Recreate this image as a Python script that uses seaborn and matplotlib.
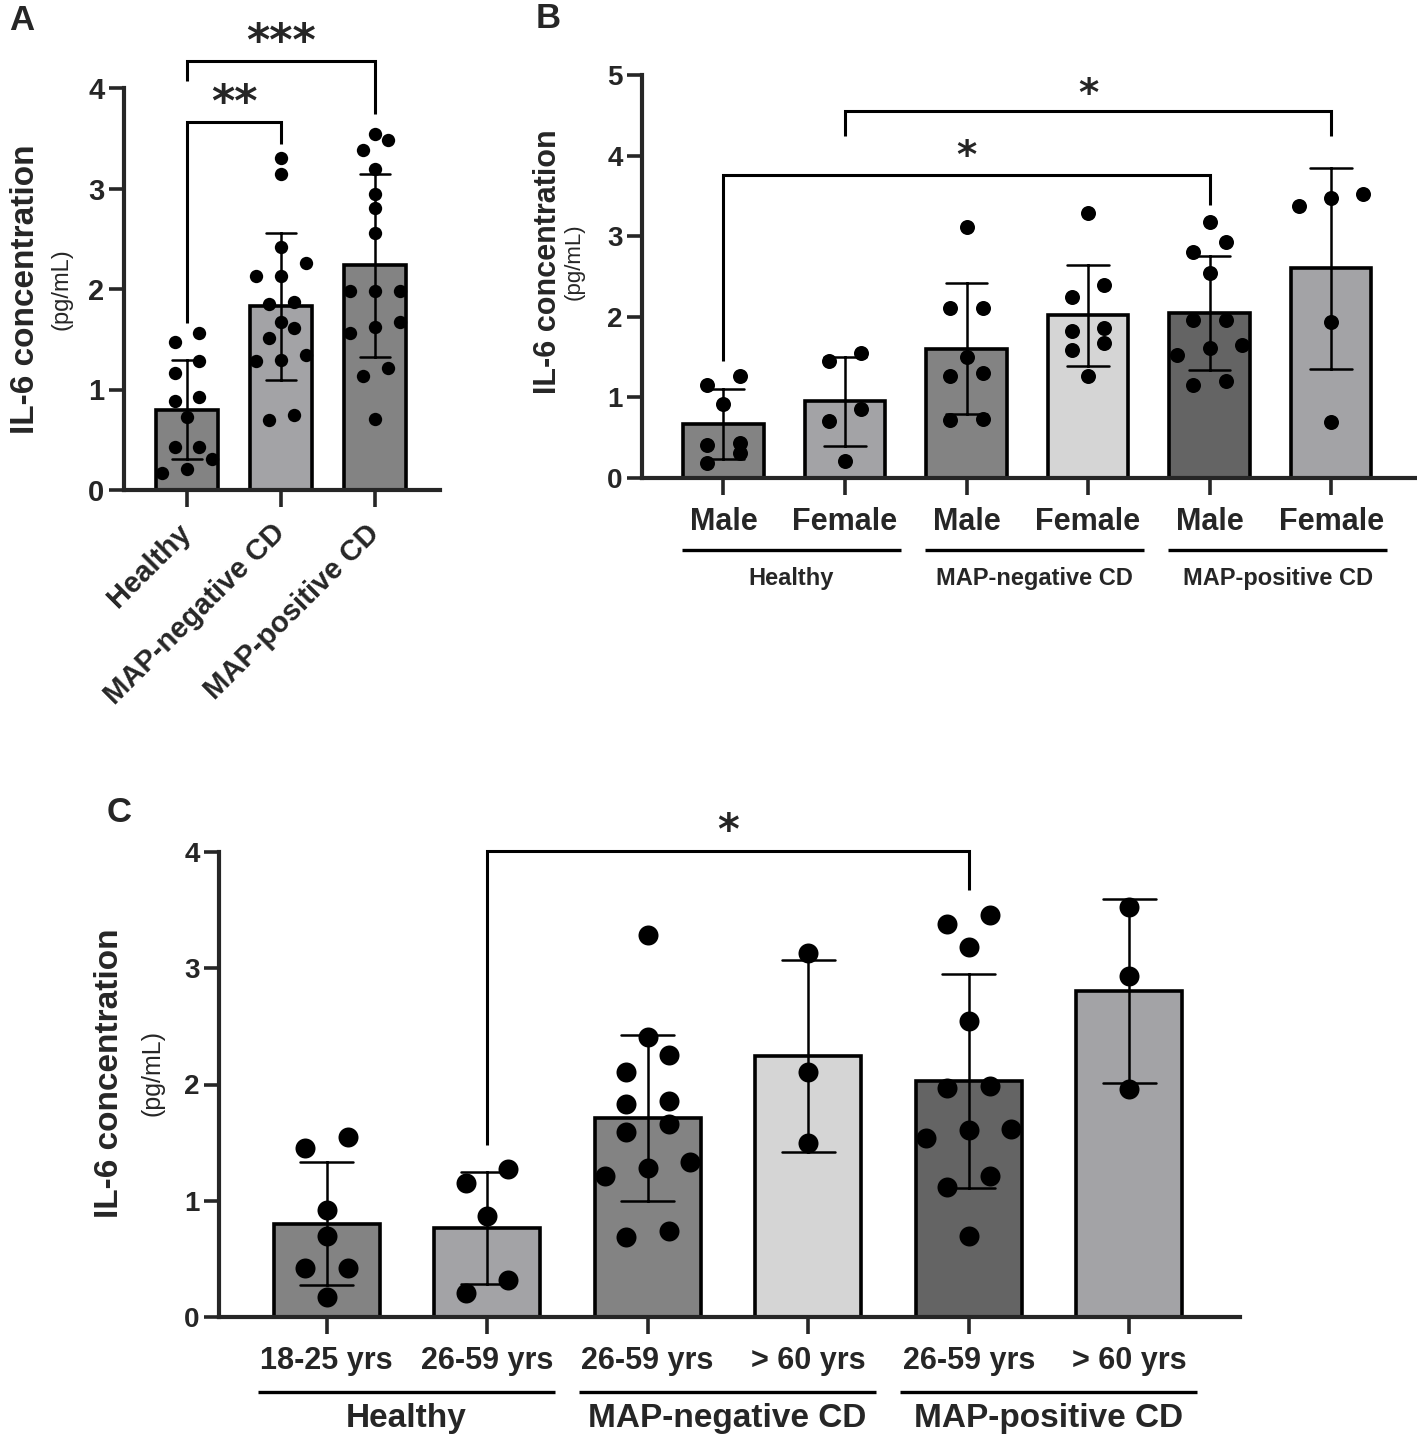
"""
IL-6 concentration per group (A), per sex (B) and per age class (C).
Bars = mean, error bars = SD, dots = individual samples.
"""
# %% IMPORT LIBRARIES
import matplotlib.pyplot as plt
import matplotlib.transforms as mtransforms
import numpy as np
import pandas as pd
import seaborn as sns

sns.set_style("ticks")
plt.rcParams['font.family'] = ['Liberation Sans', 'DejaVu Sans']
plt.rcParams['font.weight'] = 'bold'

# %% DATA
# Panel A: per diagnosis group
groups_a = ["Healthy", "MAP-negative CD", "MAP-positive CD"]
healthy_a = [0.93, 1.47, 1.56, 1.28, 1.16, 0.89, 0.73, 0.43, 0.43, 0.31, 0.17, 0.21]
map_neg_a = [3.30, 3.14, 2.42, 2.26, 2.13, 2.13, 1.87, 1.85, 1.67, 1.61, 1.51,
             1.29, 1.34, 1.28, 0.70, 0.75]
map_pos_a = [3.54, 3.48, 3.38, 3.19, 2.95, 2.81, 2.56, 1.98, 1.98, 1.98, 1.67,
             1.62, 1.56, 1.21, 1.13, 0.71]

# Panel B: per sex within group
groups_b = ["H-M", "H-F", "N-M", "N-F", "P-M", "P-F"]
ticks_b = ["Male", "Female", "Male", "Female", "Male", "Female"]
healthy_male = [1.27, 1.16, 0.92, 0.43, 0.41, 0.31, 0.19]
healthy_female = [1.55, 1.45, 0.85, 0.71, 0.21]
map_neg_male = [3.12, 2.11, 2.11, 1.50, 1.26, 1.30, 0.72, 0.73]
map_neg_female = [3.29, 2.40, 2.25, 1.82, 1.86, 1.67, 1.59, 1.26]
map_pos_male = [3.17, 2.93, 2.81, 2.54, 1.96, 1.96, 1.65, 1.61, 1.53, 1.16, 1.20]
map_pos_female = [3.47, 3.52, 3.37, 1.94, 0.70]

# Panel C: per age class within group
groups_c = ["H-18", "H-26", "N-26", "N-60", "P-26", "P-60"]
ticks_c = ["18-25 yrs", "26-59 yrs", "26-59 yrs", "> 60 yrs", "26-59 yrs", "> 60 yrs"]
healthy_18_25 = [1.55, 1.45, 0.92, 0.70, 0.42, 0.42, 0.17]
healthy_26_59 = [1.27, 1.15, 0.87, 0.32, 0.21]
map_neg_26_59 = [3.29, 2.41, 2.25, 2.11, 1.83, 1.86, 1.66, 1.59, 1.28, 1.33, 1.21, 0.69, 0.74]
map_neg_60 = [3.13, 2.11, 1.50]
map_pos_26_59 = [3.38, 3.46, 3.18, 2.55, 1.99, 1.97, 1.61, 1.62, 1.54, 1.21, 1.12, 0.70]
map_pos_60 = [3.53, 2.93, 1.96]

group_names = ["Healthy", "MAP-negative CD", "MAP-positive CD"]

# significance brackets: (x1, x2, bar height, left end, right end, label, label height)
brackets_a = [(0, 2, 4.27, 4.07, 3.74, "***", 4.54),
              (0, 1, 3.66, 1.66, 3.44, "**", 3.93)]
brackets_b = [(0, 4, 3.76, 1.45, 3.39, "*", 4.09),
              (1, 5, 4.55, 4.24, 4.24, "*", 4.85)]
brackets_c = [(1, 4, 4.01, 1.48, 3.67, "*", 4.24)]

MID, LIGHT, PALE, DARK = "#838383", "#a3a3a7", "#d5d5d5", "#646464"

# %% LAYOUT
W, H = 1417, 1447
fig = plt.figure(figsize=(W / 100, H / 100), dpi=100)


def rect(left, top, right, bottom):
    return [left / W, 1 - bottom / H, (right - left) / W, (bottom - top) / H]


def fy(y_px):
    return 1 - y_px / H


ax_a = fig.add_axes(rect(124, 88, 440, 490))
ax_b = fig.add_axes(rect(642, 75, 1415, 478))
ax_c = fig.add_axes(rect(219, 852, 1240, 1317))


def long_table(keys, values):
    return pd.DataFrame({
        "group": np.repeat(keys, [len(v) for v in values]),
        "il6": np.concatenate(values)
    })


def dot_offsets(values, row_height, step=0.265):
    # prism-like scatter: points of about the same value share a row,
    # each row is centred on the bar
    values = np.asarray(values, dtype=float)
    offsets = np.zeros(len(values))
    row = []

    def flush(row):
        for k, idx in enumerate(row):
            offsets[idx] = (k - (len(row) - 1) / 2) * step

    for idx in np.argsort(values, kind="stable"):
        if row and values[idx] - values[row[0]] >= row_height:
            flush(row)
            row = []
        row.append(idx)
    flush(row)
    return offsets


def draw_panel(ax, keys, values, colors, dot_size, row_height, cap_w, ymax, ytick_size):
    df = long_table(keys, values)
    sns.barplot(data=df, x="group", y="il6", order=keys, hue="group",
                hue_order=keys, palette=dict(zip(keys, colors)), legend=False,
                errorbar="sd", capsize=cap_w, width=0.66,
                edgecolor="black", linewidth=2.6,
                err_kws={"color": "black", "linewidth": 1.8}, ax=ax)
    df["pos"] = np.concatenate([i + dot_offsets(v, row_height) for i, v in enumerate(values)])
    sns.scatterplot(data=df, x="pos", y="il6", color="black", s=dot_size ** 2,
                    linewidth=0, zorder=3, legend=False, ax=ax)
    ax.set_xlim(-0.67, len(keys) - 0.31)
    ax.set_ylim(0, ymax)
    ax.set_yticks(range(ymax + 1))
    ax.set_xlabel("")
    ax.set_ylabel("")
    sns.despine(ax=ax)
    for side in ["left", "bottom"]:
        ax.spines[side].set_linewidth(3)
    ax.tick_params(axis="y", length=11, width=2.6, labelsize=ytick_size, pad=3)
    ax.tick_params(axis="x", length=12, width=2.6)


def draw_brackets(ax, brackets, star_size):
    star_trans = mtransforms.offset_copy(ax.transData, fig=fig, y=-6, units="points")
    for x1, x2, y, y1, y2, label, label_y in brackets:
        ax.plot([x1, x1, x2, x2], [y1, y, y, y2], color="black", lw=2.2,
                clip_on=False, solid_joinstyle="miter", solid_capstyle="butt")
        ax.text((x1 + x2) / 2, label_y, label, ha="center", va="center",
                fontsize=star_size, family="DejaVu Sans", fontweight="bold",
                transform=star_trans)


def draw_groups(ax, line_px, label_px, left, right, size):
    trans = mtransforms.blended_transform_factory(ax.transData, fig.transFigure)
    for i, name in enumerate(group_names):
        x0, x1 = 2 * i + left, 2 * i + right
        ax.plot([x0, x1], [fy(line_px), fy(line_px)], color="black", lw=2.4,
                transform=trans, clip_on=False, solid_capstyle="butt")
        ax.text((x0 + x1) / 2, fy(label_px), name, ha="center", va="center",
                fontsize=size, fontweight="bold", transform=trans)


def y_label(x_px, y_px, x2_px, size, unit_size):
    fig.text(x_px / W, fy(y_px), "IL-6 concentration", rotation=90,
             ha="center", va="center", fontsize=size, fontweight="bold")
    fig.text(x2_px / W, fy(y_px), "(pg/mL)", rotation=90,
             ha="center", va="center", fontsize=unit_size, fontweight="normal")


# %% Panel A
draw_panel(ax_a, groups_a, [healthy_a, map_neg_a, map_pos_a],
           [MID, LIGHT, MID], 9.6, 0.14, 0.32, 4, 21)
ax_a.set_xticks(range(len(groups_a)))
ax_a.set_xticklabels(groups_a, fontsize=21)
plt.setp(ax_a.get_xticklabels(), rotation=45, ha="right", va="center",
         rotation_mode="anchor")
ax_a.tick_params(axis="x", pad=16)
draw_brackets(ax_a, brackets_a, 32)
y_label(26, 289, 61, 24, 17)

# %% Panel B
draw_panel(ax_b, groups_b,
           [healthy_male, healthy_female, map_neg_male, map_neg_female,
            map_pos_male, map_pos_female],
           [MID, LIGHT, MID, PALE, DARK, LIGHT], 10.8, 0.19, 0.34, 5, 20)
ax_b.set_xticks(range(len(groups_b)))
ax_b.set_xticklabels(ticks_b, fontsize=22)
ax_b.tick_params(axis="x", pad=9)
draw_brackets(ax_b, brackets_b, 28)
draw_groups(ax_b, 550, 578, -0.34, 1.46, 17)
y_label(548, 262, 574, 22, 16)

# %% Panel C
draw_panel(ax_c, groups_c,
           [healthy_18_25, healthy_26_59, map_neg_26_59, map_neg_60,
            map_pos_26_59, map_pos_60],
           [MID, LIGHT, MID, PALE, DARK, LIGHT], 14.4, 0.17, 0.33, 4, 20)
ax_c.set_xticks(range(len(groups_c)))
ax_c.set_xticklabels(ticks_c, fontsize=22)
ax_c.tick_params(axis="x", pad=9)
draw_brackets(ax_c, brackets_c, 30)
draw_groups(ax_c, 1392, 1418, -0.43, 1.42, 24)
y_label(110, 1073, 153, 24, 18)

# %% Panel letters
for letter, x_px, y_px in [("A", 22, 20), ("B", 548, 18), ("C", 119, 812)]:
    fig.text(x_px / W, fy(y_px), letter, ha="center", va="center",
             fontsize=25, fontweight="bold")

plt.savefig("out.png", dpi=100)
